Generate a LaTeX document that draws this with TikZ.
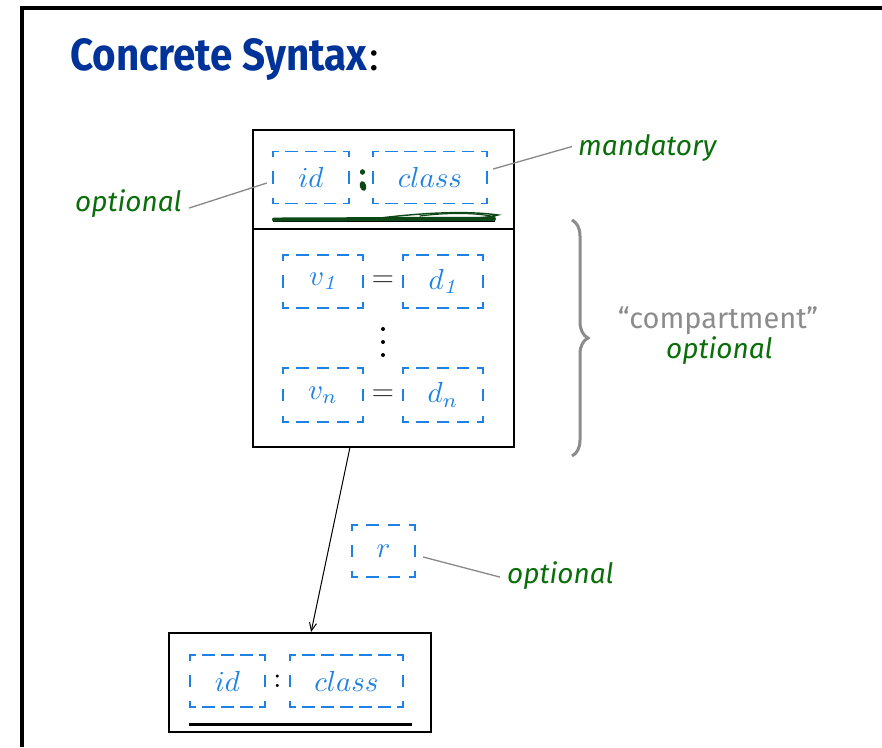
\documentclass[tikz,border=0pt]{standalone}
\usepackage{fontspec}
\usepackage{graphicx}
\setsansfont{Fira Sans}
\usetikzlibrary{calc,arrows.meta,decorations.pathreplacing}
\definecolor{titleblue}{RGB}{0,51,153}
\definecolor{dblue}{RGB}{30,130,228}
\definecolor{labgreen}{RGB}{10,110,10}
\definecolor{scribgreen}{RGB}{12,72,22}
\definecolor{notegray}{RGB}{136,136,136}
\definecolor{comptext}{RGB}{140,140,140}
\definecolor{eqgray}{RGB}{55,55,55}
\newcommand\mtxt[1]{\scalebox{2.9}{#1}}
% dashed side: corner arms of 5pt, dashes of 11pt, gaps stretched to fit
\newcommand\dside[3]{%
  \pgfmathsetmacro\dsN{max(1,floor((#3-18)/19))}%
  \pgfmathsetmacro\dsG{(#3-10-\dsN*11)/(\dsN+1)}%
  \draw[dashline, dash pattern=on 11pt off \dsG pt, dash phase=6pt] (#1) -- (#2);}
\newcommand\dashrect[3]{%
  \dside{#1.north west}{#1.north east}{#2}%
  \dside{#1.south west}{#1.south east}{#2}%
  \dside{#1.north west}{#1.south west}{#3}%
  \dside{#1.north east}{#1.south east}{#3}}
\begin{document}
\begin{tikzpicture}[x=1pt,y=-1pt,
  frameline/.style={line width=4pt},
  umlbox/.style={draw, line width=2pt, inner sep=0pt},
  dbox/.style={text=dblue, inner sep=0pt, minimum height=52pt},
  dashline/.style={draw=dblue, color=dblue, line width=1.5pt, line cap=rect},
  eqsign/.style={text=eqgray, inner sep=0pt},
  label/.style={text=labgreen, inner sep=0pt, font=\sffamily\itshape\fontsize{28}{33}\selectfont},
  note/.style={draw=notegray, line width=1.3pt},
  assoc/.style={-{Straight Barb[length=8pt,width=7pt]}, line width=1pt},
  bracest/.style={draw=comptext, line width=3pt, decorate, decoration={brace, amplitude=16pt}},
  scrib/.style={draw=scribgreen, line cap=round}
]
\useasboundingbox (0,0) rectangle (882,747);
% frame
\draw[frameline] (22,747) -- (22,8) -- (882,8);
% title
\node[anchor=base west, inner sep=0pt, text=titleblue] (title) at (70,70)
  {\resizebox{297pt}{32pt}{\sffamily\bfseries Concrete Syntax}};
\node[anchor=base west, inner sep=0pt, font=\sffamily\fontsize{40}{48}\selectfont] (tcolon)
  at ([xshift=2pt]title.base east) {:};

% class box with compartment
\node[umlbox, minimum width=261pt, minimum height=99pt] (head) at (383.5,179.5) {};
\node[umlbox, minimum width=261pt, minimum height=218pt] (comp) at (383.5,338) {};

\node[dbox, minimum width=76pt] (idT) at (311,177.5) {\mtxt{$id$}};
\dashrect{idT}{76}{52}
\node[dbox, minimum width=114pt] (classT) at (430,177.5) {\mtxt{$class$}};
\dashrect{classT}{114}{52}
% scribbled colon
\fill[scribgreen] (362.5,172) ellipse (2.6pt and 2.8pt);
\fill[scribgreen, rotate around={15:(363,186)}] (363,186) ellipse (3.2pt and 5pt);
% underline with scribble
\draw[line width=2.5pt] ([yshift=-17pt]idT.south west) -- ([xshift=8pt,yshift=-17pt]classT.south east);
\draw[scrib, line width=4pt] (274,219.5) .. controls (340,219.5) and (420,218.5) .. (494,219);
\draw[scrib, line width=1.4pt] (380,218) .. controls (430,212) and (470,211) .. (498,215)
   .. controls (485,219) and (440,220) .. (400,219);
\draw[scrib, line width=1.2pt] (420,216) .. controls (450,212) and (480,213) .. (495,217);

\node[dbox, minimum width=80pt, minimum height=53pt] (v1) at (323,281.5) {\mtxt{$v_{\mathit 1}$}};
\dashrect{v1}{80}{53}
\node[eqsign] (eq1) at (383,281) {\mtxt{$=$}};
\node[dbox, minimum width=80pt, minimum height=53pt] (d1) at (443,281.5) {\mtxt{$d_{\mathit 1}$}};
\dashrect{d1}{80}{53}
\fill (383,329) circle (2pt) (383,342) circle (2pt) (383,355) circle (2pt);
\node[dbox, minimum width=80pt, minimum height=54pt] (vn) at (323,395) {\mtxt{$v_n$}};
\dashrect{vn}{80}{54}
\node[eqsign] (eqn) at (383,395) {\mtxt{$=$}};
\node[dbox, minimum width=80pt, minimum height=54pt] (dn) at (443,395) {\mtxt{$d_n$}};
\dashrect{dn}{80}{54}

% brace and compartment note
\draw[bracest] (572,220) -- (572,456);
\node[anchor=base, inner sep=0pt, text=comptext, font=\sffamily\fontsize{29}{34}\selectfont] (comptxt)
  at (718,328) {“compartment”};
\node[label, anchor=base] (optC) at (719.5,358) {optional};

% labels on the head
\node[label, anchor=base west] (optL) at (75,211) {optional};
\draw[note] ([xshift=7pt,yshift=-5pt]optL.east) -- ([xshift=-6pt,yshift=-5.5pt]idT.west);
\node[label, anchor=base west] (mand) at (578,155) {mandatory};
\draw[note] ([xshift=6pt,yshift=8.5pt]classT.east) -- ([xshift=-6pt,yshift=1pt]mand.west);

% association
\node[umlbox, minimum width=262pt, minimum height=99pt] (obj) at (300,682.5) {};
\draw[assoc] ($(comp.south west)!0.372!(comp.south east)$) -- ($(obj.north west)!0.542!(obj.north east)$);
\node[dbox, minimum width=63pt] (rr) at (383.5,551) {\mtxt{$r$}};
\dashrect{rr}{63}{52}
\node[label, anchor=base west] (optR) at (507,583) {optional};
\draw[note] ([xshift=8pt,yshift=-6pt]rr.east) -- ([xshift=-7pt,yshift=-2pt]optR.west);

% object box
\node[dbox, minimum width=75pt] (idB) at (227.5,681) {\mtxt{$id$}};
\dashrect{idB}{75}{52}
\node[anchor=center, inner sep=0pt] (colB) at (277.5,681) {\mtxt{:}};
\node[dbox, minimum width=113pt] (classB) at (346.5,681) {\mtxt{$class$}};
\dashrect{classB}{113}{52}
\draw[line width=3pt] ([xshift=-1pt,yshift=-17pt]idB.south west) -- ([xshift=9pt,yshift=-17pt]classB.south east);
\end{tikzpicture}
\end{document}
